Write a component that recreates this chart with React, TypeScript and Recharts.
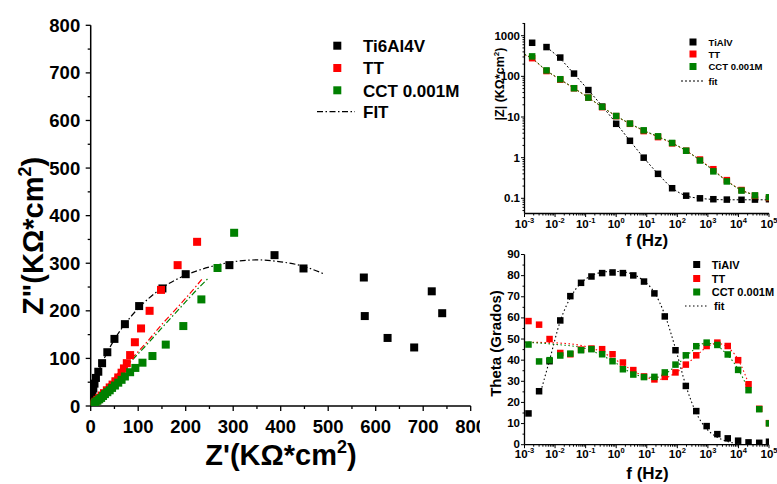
import React from 'react';
import { ComposedChart, Scatter, Line, XAxis, YAxis } from 'recharts';

const FONT = '"Liberation Sans", Arial, Helvetica, sans-serif';
const BLACK = '#000000';
const RED = '#ff0000';
const GREEN = '#008000';

// Nyquist: Z' (x) and Z'' (y), KOhm*cm2
const nyqTiRe = [740, 718, 681, 625, 577, 575, 448, 387, 292, 200, 151, 102, 72, 50, 35, 24, 16, 11, 8, 5.5, 3.5, 2, 1, 0.5];
const nyqTiIm = [195, 241, 123, 143, 189, 270, 289, 317, 296, 277, 247, 210, 172, 141, 113, 90, 72, 59, 47, 37, 26, 15, 6, 2];
const nyqTtRe = [224, 183, 148, 124, 106, 93, 83, 76, 70, 65, 58, 52, 46, 40, 34, 28, 23, 18, 14, 10, 7, 4, 2, 1];
const nyqTtIm = [345, 296, 244, 200, 163, 134, 107, 90, 79, 70, 60, 52, 45, 39, 33, 27, 22, 17, 13, 9, 6, 4, 2, 1];
const nyqCctRe = [302, 267, 233, 195, 158, 130, 109, 94, 83, 72, 65, 58, 51, 45, 40, 35, 30, 26, 22, 18, 14, 10, 7, 4, 2];
const nyqCctIm = [364, 290, 224, 168, 129, 105, 91, 80, 71, 62, 55, 49, 43, 38, 33, 29, 25, 21, 17, 14, 11, 8, 5, 3, 1];

const fitTiRe = [0, 2, 5, 11, 24, 50, 75, 100, 150, 200, 250, 300, 350, 400, 450, 490];
const fitTiIm = [0, 15, 37, 59, 90, 140, 176, 205, 248, 275, 292, 303, 307, 303, 293, 278];
const fitTtRe = [0, 20, 48, 83, 118, 153, 188, 223, 237];
const fitTtIm = [0, 24, 58, 96, 134, 175, 213, 253, 270];
const fitCctRe = [0, 20, 50, 85, 120, 155, 190, 225, 248];
const fitCctIm = [0, 22, 56, 94, 131, 170, 208, 246, 269];

// Bode |Z|
const bodeFreq = [0.00178, 0.00525, 0.0148, 0.0417, 0.123, 0.347, 1.0, 2.82, 7.94, 23.4, 67.6, 195, 550, 1510, 4170, 12600, 34700, 100000];
const bodeTi = [670, 525, 290, 117, 46, 18, 6.8, 2.6, 1.0, 0.4, 0.177, 0.116, 0.1, 0.095, 0.093, 0.092, 0.093, 0.095];
const bodeTt = [280, 135, 83, 51, 30, 17.5, 10.5, 6.8, 4.5, 3.2, 2.25, 1.48, 0.9, 0.52, 0.28, 0.16, 0.115, 0.102];
const bodeCct = [310, 140, 85, 51, 30, 17.8, 10.6, 6.9, 4.7, 3.35, 2.3, 1.48, 0.85, 0.46, 0.26, 0.155, 0.118, 0.106];

const fitZFreqTi = [0.00525, 0.0148, 0.0417, 0.123, 0.347, 1.0, 2.82, 7.94, 23.4, 67.6, 195, 550, 1510, 4170, 12600, 34700, 100000];
const fitZTi = [525, 270, 115, 46, 18.5, 7, 2.6, 1.0, 0.4, 0.18, 0.115, 0.1, 0.094, 0.092, 0.092, 0.092, 0.092];
const fitZFreq = [0.001, 0.00178, 0.00525, 0.0148, 0.0417, 0.123, 0.347, 1.0, 2.82, 7.94, 23.4, 67.6, 195, 550, 1510, 4170, 12600, 34700];
const fitZTt = [345, 270, 137, 83, 51, 30, 17.6, 10.5, 6.8, 4.6, 3.25, 2.25, 1.48, 0.88, 0.5, 0.27, 0.16, 0.12];
const fitZCct = [350, 275, 139, 84, 51, 30, 17.7, 10.6, 6.9, 4.7, 3.3, 2.3, 1.48, 0.86, 0.48, 0.265, 0.158, 0.12];

// Bode phase
const phaseFreq = [0.00135, 0.003, 0.0066, 0.0148, 0.0316, 0.0708, 0.155, 0.347, 0.76, 1.66, 3.63, 8.13, 17.8, 38.9, 87.1, 190, 417, 912, 2040, 4470, 9770, 21400, 47900, 100000];
const phaseTi = [14.8, 25.3, 39.5, 58.8, 70.3, 76.6, 79.6, 81.2, 81.5, 81.2, 80.1, 77.2, 71.6, 60.7, 44.7, 27.8, 15.9, 8.8, 5.0, 3.0, 1.9, 1.1, 0.9, 1.4];
const phaseTt = [58.5, 56.8, 50.0, 43.4, 42.8, 45.0, 45.5, 45.2, 42.8, 38.9, 35.3, 32.3, 30.9, 32.1, 34.2, 37.9, 42.3, 46.7, 48.3, 46.7, 40.0, 28.6, 17.0, 10.2];
const phaseCct = [47.4, 39.4, 40.0, 42.2, 43.1, 44.7, 45.2, 42.8, 39.5, 35.7, 33.2, 32.0, 32.1, 34.2, 37.9, 42.3, 46.6, 48.3, 47.2, 42.7, 35.4, 25.8, 16.8, 10.1];

const fitPFreqTi = [0.0037, 0.0066, 0.0148, 0.0316, 0.0708, 0.155, 0.347, 0.76, 1.66, 3.63, 8.13, 17.8, 38.9, 87.1, 190, 417, 912, 2040, 4470, 9770, 14500];
const fitPTi = [27, 40, 58.5, 69.5, 76.5, 80, 81.6, 82, 81.8, 80.5, 77.5, 72, 61.5, 45.5, 28, 15, 7.5, 3.5, 1.5, 0.5, 0];
const fitPFreqTt = [0.001, 0.01, 0.1, 0.316, 1, 3.16, 10, 20, 40, 100, 316, 1000, 2000, 4000, 10000, 21400];
const fitPTt = [48.5, 48.2, 46.5, 44, 40, 35.5, 31.8, 30.8, 31.5, 34.5, 40.5, 46.5, 48, 46.5, 40, 29];
const fitPFreqCct = [0.001, 0.01, 0.1, 0.316, 1, 3.16, 10, 20, 40, 100, 316, 800, 1600, 4000, 10000, 21400];
const fitPCct = [48.5, 47.5, 45.5, 42.5, 38.5, 34, 32, 31.8, 33.5, 38, 44.5, 48, 47.5, 43, 35.5, 26];

// ticks
const nyqTicks = [0, 50, 100, 150, 200, 250, 300, 350, 400, 450, 500, 550, 600, 650, 700, 750, 800];
const decades = [0.001, 0.01, 0.1, 1, 10, 100, 1000, 10000, 100000];
const freqTicks = decades.flatMap((d, i) => (i < decades.length - 1 ? [d, 2 * d, 3 * d, 4 * d, 5 * d, 6 * d, 7 * d, 8 * d, 9 * d] : [d]));
const zMajor = [0.1, 1, 10, 100, 1000];
const zTickLabels = ['0.1', '1', '10', '100', '1000'];
const zTicks = [0.05, 0.06, 0.07, 0.08, 0.09].concat(
  [0.1, 1, 10, 100].flatMap((d) => [d, 2 * d, 3 * d, 4 * d, 5 * d, 6 * d, 7 * d, 8 * d, 9 * d]),
  [1000, 2000]
);
const thetaTicks = [0, 5, 10, 15, 20, 25, 30, 35, 40, 45, 50, 55, 60, 65, 70, 75, 80, 85, 90];

const pts = (xs: number[], ys: number[]) => xs.map((x, i) => ({ x, y: ys[i] }));

const makeSquare = (size: number, fill: string) => (props: any) => {
  const { cx, cy } = props;
  if (typeof cx !== 'number' || typeof cy !== 'number') return <g />;
  return <rect x={cx - size / 2} y={cy - size / 2} width={size} height={size} fill={fill} />;
};

const NyqXTick = (props: any) => {
  const { x, y, payload } = props;
  const major = payload.value % 100 === 0;
  return (
    <g>
      <line x1={x} y1={y} x2={x} y2={y + (major ? 5 : 3)} stroke={BLACK} strokeWidth={1.3} />
      {major && (
        <text x={x} y={y + 27} textAnchor="middle" fontSize={18.5} fontWeight="bold" fontFamily={FONT} fill={BLACK}>
          {payload.value}
        </text>
      )}
    </g>
  );
};

const NyqYTick = (props: any) => {
  const { x, y, payload } = props;
  const major = payload.value % 100 === 0;
  return (
    <g>
      <line x1={x - (major ? 5 : 3)} y1={y} x2={x} y2={y} stroke={BLACK} strokeWidth={1.3} />
      {major && (
        <text x={x - 10.5} y={y + 6.5} textAnchor="end" fontSize={18.5} fontWeight="bold" fontFamily={FONT} fill={BLACK}>
          {payload.value}
        </text>
      )}
    </g>
  );
};

const makeFreqTick = (labelDy: number) => (props: any) => {
  const { x, y, payload } = props;
  const lg = Math.log10(payload.value);
  const e = Math.round(lg);
  const major = Math.abs(lg - e) < 1e-6;
  return (
    <g>
      <line x1={x} y1={y} x2={x} y2={y + (major ? 3.5 : 2)} stroke={BLACK} strokeWidth={1} />
      {major && (
        <text x={x} y={y + labelDy} textAnchor="middle" fontSize={11.5} fontWeight="bold" fontFamily={FONT} fill={BLACK}>
          10
          <tspan dy={-5} fontSize={7.5}>
            {e}
          </tspan>
        </text>
      )}
    </g>
  );
};

const ZTick = (props: any) => {
  const { x, y, payload } = props;
  const idx = zMajor.findIndex((m) => Math.abs(m - payload.value) < 1e-9);
  const major = idx >= 0;
  return (
    <g>
      <line x1={x - (major ? 3.5 : 2)} y1={y} x2={x} y2={y} stroke={BLACK} strokeWidth={1} />
      {major && (
        <text x={x - 4.5} y={y + 4} textAnchor="end" fontSize={11.5} fontWeight="bold" fontFamily={FONT} fill={BLACK}>
          {zTickLabels[idx]}
        </text>
      )}
    </g>
  );
};

const ThetaTick = (props: any) => {
  const { x, y, payload } = props;
  const major = payload.value % 10 === 0;
  return (
    <g>
      <line x1={x - (major ? 3.5 : 2)} y1={y} x2={x} y2={y} stroke={BLACK} strokeWidth={1} />
      {major && (
        <text x={x - 4.5} y={y + 3.5} textAnchor="end" fontSize={11.5} fontWeight="bold" fontFamily={FONT} fill={BLACK}>
          {payload.value}
        </text>
      )}
    </g>
  );
};

const boxAxes = (w: number) => [
  <XAxis key="top" xAxisId="top" orientation="top" height={0} tick={false} tickLine={false} axisLine={{ stroke: BLACK, strokeWidth: w }} />,
  <YAxis key="right" yAxisId="right" orientation="right" width={0} tick={false} tickLine={false} axisLine={{ stroke: BLACK, strokeWidth: w }} />,
];

const Nyquist = () => (
  <ComposedChart width={480} height={484} margin={{ top: 25.3, right: 9.3, bottom: 0, left: 0 }}>
    <XAxis
      type="number"
      dataKey="x"
      domain={[0, 800]}
      ticks={nyqTicks}
      interval={0}
      tickSize={0}
      tickMargin={0}
      tickLine={false}
      tick={<NyqXTick />}
      height={78}
      axisLine={{ stroke: BLACK, strokeWidth: 1.5 }}
      allowDataOverflow
    />
    <YAxis
      type="number"
      dataKey="y"
      domain={[0, 800]}
      ticks={nyqTicks}
      interval={0}
      tickSize={0}
      tickMargin={0}
      tickLine={false}
      tick={<NyqYTick />}
      width={90.7}
      axisLine={{ stroke: BLACK, strokeWidth: 1.5 }}
      allowDataOverflow
    />
    {boxAxes(1.5)}
    <Line data={pts(fitTiRe, fitTiIm)} dataKey="y" type="monotone" stroke={BLACK} strokeWidth={1.2} strokeDasharray="6 2.5 1.5 2.5" dot={false} isAnimationActive={false} />
    <Line data={pts(fitTtRe, fitTtIm)} dataKey="y" type="monotone" stroke={RED} strokeWidth={1.2} strokeDasharray="6 2.5 1.5 2.5" dot={false} isAnimationActive={false} />
    <Line data={pts(fitCctRe, fitCctIm)} dataKey="y" type="monotone" stroke={GREEN} strokeWidth={1.2} strokeDasharray="6 2.5 1.5 2.5" dot={false} isAnimationActive={false} />
    <Scatter data={pts(nyqTiRe, nyqTiIm)} shape={makeSquare(8, BLACK)} isAnimationActive={false} />
    <Scatter data={pts(nyqTtRe, nyqTtIm)} shape={makeSquare(8, RED)} isAnimationActive={false} />
    <Scatter data={pts(nyqCctRe, nyqCctIm)} shape={makeSquare(8, GREEN)} isAnimationActive={false} />
  </ComposedChart>
);

const BodeZ = () => (
  <ComposedChart width={307} height={250} margin={{ top: 23, right: 8, bottom: 0, left: 0 }}>
    <XAxis
      type="number"
      dataKey="x"
      scale="log"
      domain={[0.001, 100000]}
      ticks={freqTicks}
      interval={0}
      tickSize={0}
      tickMargin={0}
      tickLine={false}
      tick={makeFreqTick(14.5)}
      height={36.5}
      axisLine={{ stroke: BLACK, strokeWidth: 1.3 }}
      allowDataOverflow
    />
    <YAxis
      type="number"
      dataKey="y"
      scale="log"
      domain={[0.0423, 2053]}
      ticks={zTicks}
      interval={0}
      tickSize={0}
      tickMargin={0}
      tickLine={false}
      tick={<ZTick />}
      width={54.5}
      axisLine={{ stroke: BLACK, strokeWidth: 1.3 }}
      allowDataOverflow
    />
    {boxAxes(1.3)}
    <Line data={pts(fitZFreqTi, fitZTi)} dataKey="y" type="monotone" stroke={BLACK} strokeWidth={1} strokeDasharray="2 2" dot={false} isAnimationActive={false} />
    <Line data={pts(fitZFreq, fitZTt)} dataKey="y" type="monotone" stroke={RED} strokeWidth={1} strokeDasharray="2 2" dot={false} isAnimationActive={false} />
    <Line data={pts(fitZFreq, fitZCct)} dataKey="y" type="monotone" stroke={GREEN} strokeWidth={1} strokeDasharray="2 2" dot={false} isAnimationActive={false} />
    <Scatter data={pts(bodeFreq, bodeTi)} shape={makeSquare(6.5, BLACK)} isAnimationActive={false} />
    <Scatter data={pts(bodeFreq, bodeTt)} shape={makeSquare(6.5, RED)} isAnimationActive={false} />
    <Scatter data={pts(bodeFreq, bodeCct)} shape={makeSquare(6.5, GREEN)} isAnimationActive={false} />
  </ComposedChart>
);

const BodePhase = () => (
  <ComposedChart width={307} height={244} margin={{ top: 14.5, right: 8, bottom: 0, left: 0 }}>
    <XAxis
      type="number"
      dataKey="x"
      scale="log"
      domain={[0.001, 100000]}
      ticks={freqTicks}
      interval={0}
      tickSize={0}
      tickMargin={0}
      tickLine={false}
      tick={makeFreqTick(13)}
      height={39.3}
      axisLine={{ stroke: BLACK, strokeWidth: 1.3 }}
      allowDataOverflow
    />
    <YAxis
      type="number"
      dataKey="y"
      domain={[0, 90]}
      ticks={thetaTicks}
      interval={0}
      tickSize={0}
      tickMargin={0}
      tickLine={false}
      tick={<ThetaTick />}
      width={54.5}
      axisLine={{ stroke: BLACK, strokeWidth: 1.3 }}
      allowDataOverflow
    />
    {boxAxes(1.3)}
    <Line data={pts(fitPFreqTi, fitPTi)} dataKey="y" type="monotone" stroke={BLACK} strokeWidth={1.1} strokeDasharray="1.5 2.5" dot={false} isAnimationActive={false} />
    <Line data={pts(fitPFreqTt, fitPTt)} dataKey="y" type="monotone" stroke={RED} strokeWidth={1.1} strokeDasharray="1.5 2.5" dot={false} isAnimationActive={false} />
    <Line data={pts(fitPFreqCct, fitPCct)} dataKey="y" type="monotone" stroke={GREEN} strokeWidth={1.1} strokeDasharray="1.5 2.5" dot={false} isAnimationActive={false} />
    <Scatter data={pts(phaseFreq, phaseTi)} shape={makeSquare(6.5, BLACK)} isAnimationActive={false} />
    <Scatter data={pts(phaseFreq, phaseTt)} shape={makeSquare(6.5, RED)} isAnimationActive={false} />
    <Scatter data={pts(phaseFreq, phaseCct)} shape={makeSquare(6.5, GREEN)} isAnimationActive={false} />
  </ComposedChart>
);

const txt = { fontFamily: FONT, fontWeight: 'bold' as const, fill: BLACK };

const Overlay = () => (
  <svg width={777} height={484} style={{ position: 'absolute', left: 0, top: 0, pointerEvents: 'none' }}>
    {/* Nyquist titles */}
    <text x={281} y={465} textAnchor="middle" fontSize={29} {...txt}>
      Z'(KΩ*cm<tspan dy={-12} fontSize={18}>2</tspan>
      <tspan dy={12}>)</tspan>
    </text>
    <text transform="translate(42.5,236) rotate(-90)" textAnchor="middle" fontSize={29} {...txt}>
      Z"(KΩ*cm<tspan dy={-12} fontSize={18}>2</tspan>
      <tspan dy={12}>)</tspan>
    </text>
    {/* Nyquist legend */}
    <rect x={333.3} y={41.7} width={8} height={8} fill={BLACK} />
    <rect x={333.3} y={64} width={8} height={8} fill={RED} />
    <rect x={333.3} y={86.3} width={8} height={8} fill={GREEN} />
    <line x1={317} y1={111.7} x2={355} y2={111.7} stroke={BLACK} strokeWidth={1.2} strokeDasharray="6 2.5 1.5 2.5" />
    <text x={363} y={52} fontSize={17} {...txt}>Ti6Al4V</text>
    <text x={363} y={74.3} fontSize={17} {...txt}>TT</text>
    <text x={363} y={96.6} fontSize={17} {...txt}>CCT 0.001M</text>
    <text x={363} y={118} fontSize={17} {...txt}>FIT</text>

    {/* |Z| titles */}
    <text transform="translate(504,84) rotate(-90)" textAnchor="middle" fontSize={12.5} {...txt}>
      |Z| (KΩ*cm<tspan dy={-5} fontSize={8}>2</tspan>
      <tspan dy={5}>)</tspan>
    </text>
    <text x={647} y={245.5} textAnchor="middle" fontSize={17} {...txt}>f (Hz)</text>
    {/* |Z| legend */}
    <rect x={689.5} y={38.5} width={7} height={7} fill={BLACK} />
    <rect x={689.5} y={50.5} width={7} height={7} fill={RED} />
    <rect x={689.5} y={63} width={7} height={7} fill={GREEN} />
    <line x1={681} y1={81} x2={703} y2={81} stroke={BLACK} strokeWidth={1} strokeDasharray="2 2" />
    <text x={708.5} y={45.5} fontSize={9.5} {...txt}>TiAlV</text>
    <text x={708.5} y={57.5} fontSize={9.5} {...txt}>TT</text>
    <text x={708.5} y={70} fontSize={9.5} {...txt}>CCT 0.001M</text>
    <text x={708.5} y={84.5} fontSize={9.5} {...txt}>fit</text>

    {/* phase titles */}
    <text transform="translate(501,343.5) rotate(-90)" textAnchor="middle" fontSize={15} {...txt}>Theta (Grados)</text>
    <text x={647.5} y={479} textAnchor="middle" fontSize={17} {...txt}>f (Hz)</text>
    {/* phase legend */}
    <rect x={693.2} y={261} width={7} height={7} fill={BLACK} />
    <rect x={693.2} y={275} width={7} height={7} fill={RED} />
    <rect x={693.2} y={288.5} width={7} height={7} fill={GREEN} />
    <line x1={685} y1={306} x2={706.5} y2={306} stroke={BLACK} strokeWidth={1.1} strokeDasharray="1.5 2.5" />
    <text x={711.7} y={268.5} fontSize={11} {...txt}>TiAlV</text>
    <text x={711.7} y={282.5} fontSize={11} {...txt}>TT</text>
    <text x={711.7} y={296} fontSize={11} {...txt}>CCT 0.001M</text>
    <text x={714} y={310} fontSize={11} {...txt}>fit</text>
  </svg>
);

export default function App() {
  return (
    <div style={{ position: 'absolute', left: 0, top: 0, width: 777, height: 484, background: '#fff', overflow: 'hidden' }}>
      <div style={{ position: 'absolute', left: 0, top: 0 }}>
        <Nyquist />
      </div>
      <div style={{ position: 'absolute', left: 470, top: 0 }}>
        <BodeZ />
      </div>
      <div style={{ position: 'absolute', left: 470, top: 240 }}>
        <BodePhase />
      </div>
      <Overlay />
    </div>
  );
}
